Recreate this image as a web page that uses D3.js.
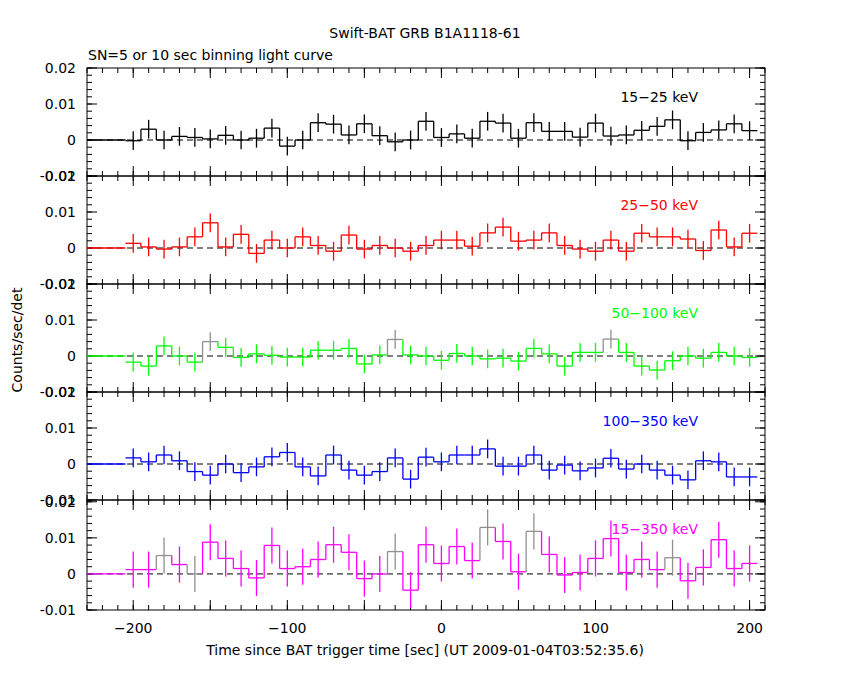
<!DOCTYPE html><html><head><meta charset="utf-8"><script src="https://cdn.jsdelivr.net/npm/d3@7"></script>
<style>body{margin:0;background:#fff}text{font-family:"DejaVu Sans",sans-serif;font-size:14px}</style></head><body>
<svg id="c" width="850" height="680"></svg>
<script>
const times = d3.range(-200, 201, 10);
const bandLabels = ["15\u221225 keV","25\u221250 keV","50\u2212100 keV","100\u2212350 keV","15\u2212350 keV"];
const bandColors = ["#000000","#ff0000","#00ff00","#0000ff","#ff00ff"];
const v1 = [-0.0002,0.003,0,0.001,0.0007,0.0003,0.0013,0,0.0005,0.0033,-0.0017,0,0.0048,0.0044,0.0014,0.0045,0.0012,-0.0005,0,0.0052,0.0007,0.0017,0.0005,0.0052,0.0047,0.0005,0.0048,0.0024,0.0024,0.0008,0.0047,0.0011,0.0014,0.0027,0.0038,0.0056,-0.0002,0.0021,0.0028,0.0045,0.0026];
const v2 = [0.0013,0.0003,-0.0003,0.0003,0.0031,0.007,0.0003,0.0038,-0.0015,0.0022,0,0.0031,0.0007,-0.0009,0.0036,-0.0003,0.0007,0,-0.0009,0.0007,0.0022,0.0022,0.0005,0.0042,0.0058,0.0019,0.0022,0.0042,0.0007,-0.0003,-0.0009,0.0022,-0.0009,0.0041,0.0031,0.0031,0.0025,-0.0007,0.005,0.0003,0.0041];
const v3 = [-0.0017,-0.0028,0.0028,0,-0.0017,0.004,0.0024,-0.0004,0.0006,0.0002,-0.0003,-0.0003,0.0016,0.0016,0.0021,-0.0022,0.0003,0.0046,0.0003,0,-0.0012,0.0007,0,-0.0008,-0.0006,-0.0014,0.0021,0.0006,-0.0028,0.001,0.001,0.0047,0.001,-0.0028,-0.0039,-0.0013,0,-0.0006,0.001,0,-0.0004];
const v4 = [0.0017,0.0006,0.0025,0.0009,-0.0021,-0.0031,0,-0.0024,-0.0008,0.002,0.0032,-0.0008,-0.0033,0.0025,-0.0017,-0.0031,-0.0021,0.0017,-0.0042,0.0019,0.0006,0.0025,0.0025,0.0042,-0.0006,-0.0006,0.0025,-0.0017,-0.0003,-0.0019,-0.0011,0.0016,-0.0014,0,-0.0017,-0.0031,-0.0044,0.0009,0.0006,-0.0036,-0.0036];
const v5 = [0.0012,0.0012,0.0051,0.0026,0,0.0088,0.0043,0.0015,-0.0011,0.0079,0.0015,0.002,0.004,0.0081,0.006,-0.0013,0,0.0062,-0.0045,0.0081,0.0029,0.0076,0.0037,0.0129,0.009,0.0006,0.0118,0.0054,-0.0003,0.0004,0.0043,0.0098,0.0004,0.004,0.0012,0.0045,-0.0019,0.0018,0.0095,0.0015,0.0029];
const errs = [0.0026,0.0026,0.0026,0.0026,0.0050];
const greyTimes = [[],[],[-150,-30,110],[],[-180,-160,-30,30,60,150]];
const series = [v1,v2,v3,v4,v5];
const yTicks = [-0.01,0,0.01,0.02];

const svg = d3.select("#c");
const x = d3.scaleLinear().domain([-230,210]).range([87,765]);
const tops = [68,176,284,392,500], phs = [108,108,108,108,110], ymax=[0.02,0.02,0.02,0.02,0.0205];
series.forEach((vals,i)=>{
  const ph = phs[i];
  const y = d3.scaleLinear().domain([-0.01,ymax[i]]).range([tops[i]+ph,tops[i]]);
  const g = svg.append("g");
  g.append("rect").attr("x",87).attr("y",tops[i]).attr("width",678).attr("height",ph).attr("fill","none").attr("stroke","#000");
  const tk=(xs,len)=>xs.forEach(t=>{const px=x(t);
    g.append("line").attr("x1",px).attr("x2",px).attr("y1",tops[i]).attr("y2",tops[i]+len).attr("stroke","#000");
    g.append("line").attr("x1",px).attr("x2",px).attr("y1",tops[i]+ph).attr("y2",tops[i]+ph-len).attr("stroke","#000");});
  tk(d3.range(-200,201,50),10); tk(d3.range(-230,211,10),5);
  const ytk=(vs,len)=>vs.forEach(v=>{const py=y(v);
    g.append("line").attr("x1",87).attr("x2",87+len).attr("y1",py).attr("y2",py).attr("stroke","#000");
    g.append("line").attr("x1",765).attr("x2",765-len).attr("y1",py).attr("y2",py).attr("stroke","#000");});
  ytk(yTicks,10); ytk(d3.range(-0.01,0.0201,0.002),5);
  yTicks.forEach(v=>g.append("text").attr("x",76).attr("y",y(v)+5).attr("text-anchor","end").text(v===0?"0":String(v)));
  g.append("line").attr("x1",87).attr("x2",765).attr("y1",y(0)).attr("y2",y(0)).attr("stroke","#000").attr("stroke-dasharray","6,4");
  const col=bandColors[i];
  g.append("line").attr("x1",x(-230)).attr("x2",x(-205)).attr("y1",y(0)).attr("y2",y(0)).attr("stroke",col).attr("stroke-width",1.3);
  vals.forEach((v,k)=>{const t=times[k]; const c=greyTimes[i].includes(t)?"#909090":col;
    g.append("line").attr("x1",x(t-5)).attr("x2",x(t+5)).attr("y1",y(v)).attr("y2",y(v)).attr("stroke",c).attr("stroke-width",1.3);
    g.append("line").attr("x1",x(t)).attr("x2",x(t)).attr("y1",y(v-errs[i])).attr("y2",y(v+errs[i])).attr("stroke",c).attr("stroke-width",1.3);
    if(k<vals.length-1){const c2=greyTimes[i].includes(times[k+1])?"#909090":col;
      g.append("line").attr("x1",x(t+5)).attr("x2",x(t+5)).attr("y1",y(v)).attr("y2",y(vals[k+1])).attr("stroke",c2).attr("stroke-width",1.3);}
  });
  g.append("text").attr("x",698).attr("y",tops[i]+34).attr("text-anchor","end").attr("fill",col).text(bandLabels[i]);
});
const xb = 610;
[-200,-100,0,100,200].forEach(t=>svg.append("text").attr("x",x(t)).attr("y",xb+23).attr("text-anchor","middle").text(t===0?"0":String(t).replace("-","\u2212")));
svg.append("text").attr("x",425).attr("y",38).attr("text-anchor","middle").text("Swift-BAT GRB B1A1118-61");
svg.append("text").attr("x",88).attr("y",60).text("SN=5 or 10 sec binning light curve");
svg.append("text").attr("x",425).attr("y",655).attr("text-anchor","middle").text("Time since BAT trigger time [sec] (UT 2009-01-04T03:52:35.6)");
svg.append("text").attr("transform","translate(22,340) rotate(-90)").attr("text-anchor","middle").text("Counts/sec/det");
</script></body></html>
